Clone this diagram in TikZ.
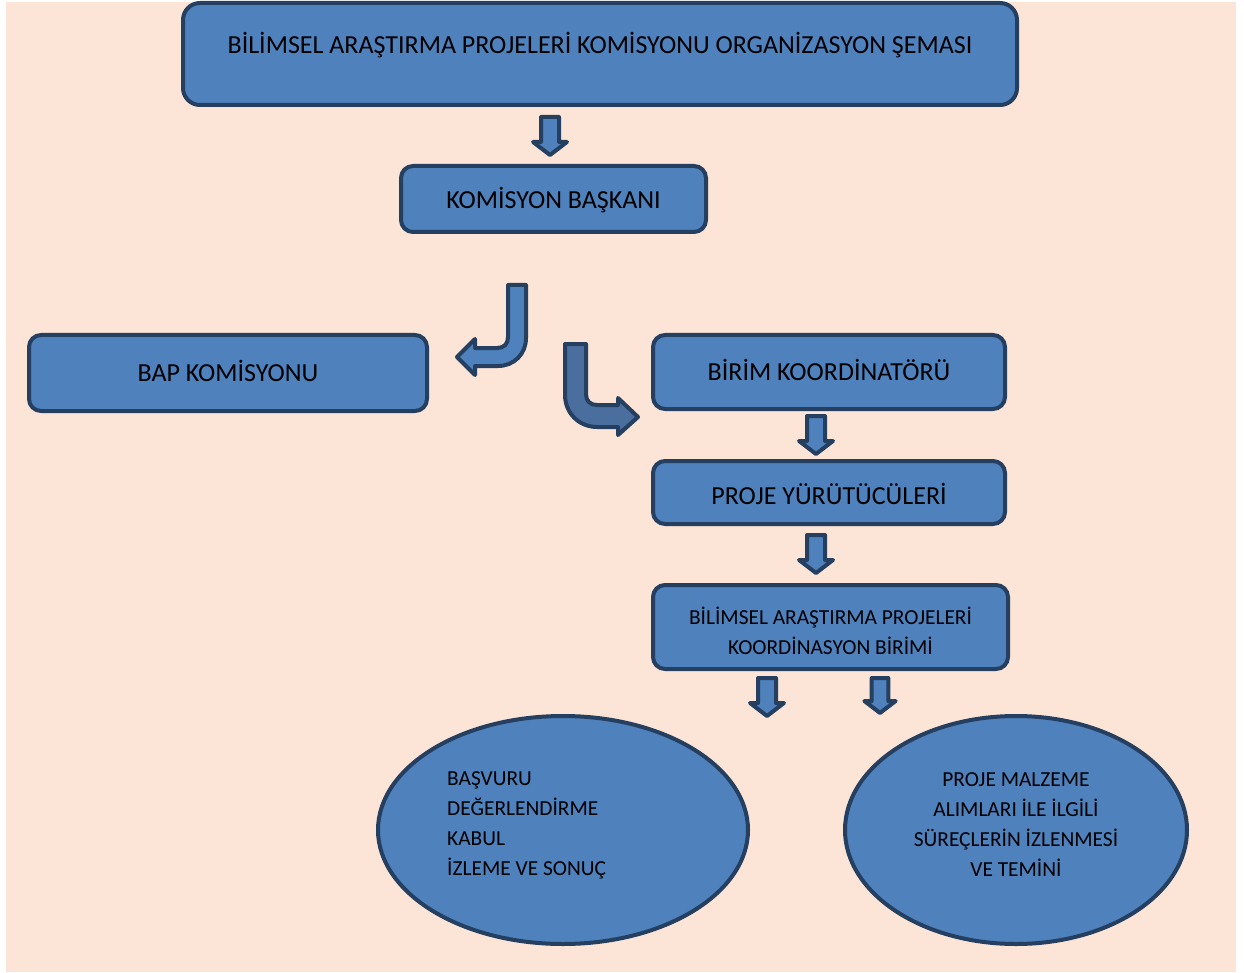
\documentclass[tikz,border=0pt]{standalone}
\usepackage{fontspec}
\setmainfont{Carlito}
\usetikzlibrary{shapes.geometric}
\definecolor{bgpeach}{HTML}{FCE4D6}
\definecolor{boxblue}{HTML}{4F81BD}
\definecolor{darkblue}{HTML}{4A6E9E}
\definecolor{edgeblue}{HTML}{243F60}
\tikzset{
  box/.style={draw=edgeblue, fill=boxblue, line width=4pt, rounded corners=12pt, text=black, font=\fontsize{26}{30}\selectfont},
  oval/.style={draw=edgeblue, fill=boxblue, line width=4pt, ellipse, inner sep=0pt},
  smalltext/.style={text=black, font=\fontsize{21.4}{30}\selectfont, inner sep=0pt},
  arrowshape/.style={draw=edgeblue, fill=boxblue, line width=4pt, line join=round},
  darr/.pic={\draw[arrowshape] (-9,0) -- (9,0) -- (9,25) -- (17,25) -- (0,38) -- (-17,25) -- (-9,25) -- cycle;}
}
\begin{document}
\begin{tikzpicture}[x=1pt,y=-1pt]
\useasboundingbox (0,0) rectangle (1244,973);
\fill[bgpeach] (6,2) rectangle (1236,972);
% boxes
\node[box, rounded corners=17pt, minimum width=834pt, minimum height=102pt] (title) at (600,54) {};
\node[text=black, font=\fontsize{26}{30}\selectfont] (titletext) at (600,45) {BİLİMSEL ARAŞTIRMA PROJELERİ KOMİSYONU ORGANİZASYON ŞEMASI};
\node[box, minimum width=305pt, minimum height=66pt] (baskan) at (553.5,199) {};
\node[text=black, font=\fontsize{26}{30}\selectfont] (baskantext) at (553.5,200) {KOMİSYON BAŞKANI};
\node[box, minimum width=398pt, minimum height=76pt] (bap) at (228,373) {};
\node[text=black, font=\fontsize{26}{30}\selectfont] (baptext) at (228,371) {BAP KOMİSYONU};
\node[box, minimum width=352pt, minimum height=74pt] (koord) at (829,372) {};
\node[text=black, font=\fontsize{26}{30}\selectfont] (koordtext) at (829,370) {BİRİM KOORDİNATÖRÜ};
\node[box, minimum width=352pt, minimum height=63pt] (yurut) at (829,492.5) {};
\node[text=black, font=\fontsize{26}{30}\selectfont] (yuruttext) at (829,494) {PROJE YÜRÜTÜCÜLERİ};
\node[box, minimum width=355pt, minimum height=84pt] (birim) at (830.5,627) {};
\node[smalltext, align=center] (birimtext) at (830.5,631) {BİLİMSEL ARAŞTIRMA PROJELERİ\\KOORDİNASYON BİRİMİ};
% ellipses
\node[oval, minimum width=370pt, minimum height=228pt] (e1) at (563,830) {};
\node[smalltext, align=left, anchor=west] (e1text) at (447,825) {BAŞVURU\\DEĞERLENDİRME\\KABUL\\İZLEME VE SONUÇ};
\node[oval, minimum width=342pt, minimum height=228pt] (e2) at (1016,830) {};
\node[smalltext, align=center] (e2text) at (1016,825) {PROJE MALZEME\\ALIMLARI İLE İLGİLİ\\SÜREÇLERİN İZLENMESİ\\VE TEMİNİ};
% straight block arrows
\pic at (550,117) {darr};
\pic at (816,416) {darr};
\pic at (816,535) {darr};
\pic at (767,678) {darr};
\pic[scale=0.92] at (880,678) {darr};
% bent arrows
\draw[arrowshape] (508,285) -- (526,285) -- (526,338) .. controls (526,354) and (514,366) .. (498,366) -- (475,366) -- (475,375) -- (457,357) -- (475,339) -- (475,348) -- (497,348) .. controls (504,348) and (508,344) .. (508,337) -- cycle;
\draw[arrowshape, fill=darkblue] (565,344) -- (586,344) -- (586,394) .. controls (586,401) and (590,405) .. (597,405) -- (618,405) -- (618,398) -- (638,417) -- (618,435) -- (618,427) -- (597,427) .. controls (579,427) and (565,413) .. (565,395) -- cycle;
\end{tikzpicture}
\end{document}
